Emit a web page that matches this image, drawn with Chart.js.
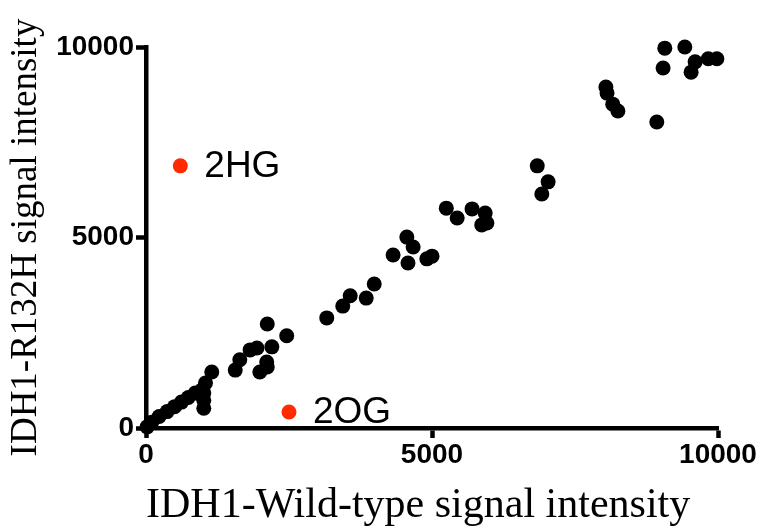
<!DOCTYPE html>
<html lang="en">
<head>
    <meta charset="UTF-8">
    <title>IDH1 signal intensity</title>
    <style>
        * { margin: 0; padding: 0; box-sizing: border-box; }
        body { background: #fff; }
        #wrap { width: 763px; height: 531px; }
    </style>
</head>
<body>
    <div id="wrap"><canvas id="scatter"></canvas></div>

    <script src="https://cdn.jsdelivr.net/npm/chart.js"></script>
    <script>
        // Metabolite intensities: wild-type (x) vs R132H mutant (y)
        const wildType = [
            20, 100, 230, 370, 500, 620, 740, 860, 980, 1010, 1010, 1010, 1040, 1150,
            1560, 1640, 1820, 1940, 1990, 2110, 2120, 2200, 2120, 2460,
            3160, 3440, 3570, 3850, 3990,
            4320, 4560, 4670, 4580, 4910, 5000,
            5250, 5440, 5700, 5930, 5960, 5870,
            6840, 7030, 6920,
            8040, 8060, 8160, 8250, 8930,
            9070, 9040, 9420, 9600, 9530, 9830, 9980
        ];
        const mutant = [
            30, 150, 300, 430, 560, 680, 800, 920, 1000, 920, 730, 520, 1180, 1470,
            1520, 1790, 2050, 2100, 1470, 1730, 2730, 2130, 1600, 2420,
            2890, 3200, 3470, 3410, 3780,
            4540, 5010, 4750, 4330, 4440, 4510,
            5770, 5510, 5750, 5640, 5380, 5330,
            6880, 6460, 6140,
            8950, 8790, 8500, 8320, 8030,
            9970, 9450, 10000, 9610, 9340, 9690, 9690
        ];

        // Highlighted metabolites
        const markerNames = ['2HG', '2OG'];
        const markerWT = [600, 2500];
        const markerMut = [6880, 420];

        const xTicks = [0, 5000, 10000];
        const yTicks = [0, 5000, 10000];

        const toPoints = (xs, ys) => xs.map((x, i) => ({ x: x, y: ys[i] }));

        // labels next to the red points
        const markerLabels = {
            id: 'markerLabels',
            afterDatasetsDraw(chart) {
                const ctx = chart.ctx;
                const xs = chart.scales.x, ys = chart.scales.y;
                ctx.save();
                ctx.fillStyle = '#000';
                ctx.font = '37px "Liberation Sans", Arial, sans-serif';
                ctx.textBaseline = 'middle';
                markerNames.forEach((name, i) => {
                    ctx.fillText(name, xs.getPixelForValue(markerWT[i]) + 24,
                                 ys.getPixelForValue(markerMut[i]) + 1);
                });
                ctx.restore();
            }
        };

        const axisCommon = {
            type: 'linear',
            min: 0,
            max: 10000,
            grid: {
                drawOnChartArea: false,
                drawTicks: true,
                tickLength: 10,
                tickWidth: 4.5,
                tickColor: '#000'
            },
            border: { display: true, color: '#000', width: 4.5 },
            ticks: {
                color: '#000',
                callback: v => String(v),
                font: { family: '"Liberation Sans", Arial, sans-serif', size: 28, weight: 'bold' }
            }
        };

        new Chart(document.getElementById('scatter'), {
            type: 'scatter',
            data: {
                datasets: [{
                    label: 'Metabolites',
                    data: toPoints(wildType, mutant),
                    backgroundColor: '#000',
                    borderColor: '#000',
                    borderWidth: 0,
                    pointRadius: 7.5,
                    clip: false
                }, {
                    label: 'Highlighted',
                    data: toPoints(markerWT, markerMut),
                    backgroundColor: '#ff2a00',
                    borderColor: '#ff2a00',
                    borderWidth: 0,
                    pointRadius: 7.5,
                    clip: false
                }]
            },
            options: {
                responsive: true,
                maintainAspectRatio: false,
                animation: false,
                layout: { padding: { left: 0, top: 47, right: 45, bottom: 0 } },
                plugins: {
                    legend: { display: false },
                    tooltip: { enabled: false }
                },
                scales: {
                    x: {
                        ...axisCommon,
                        afterBuildTicks: s => { s.ticks = xTicks.map(v => ({ value: v })); },
                        afterFit: s => { s.height = 103; },
                        ticks: { ...axisCommon.ticks, padding: 0, maxRotation: 0 },
                        title: {
                            display: true,
                            text: 'IDH1-Wild-type signal intensity',
                            color: '#000',
                            align: 'start',
                            padding: { top: 0, bottom: 0 },
                            font: { family: '"Liberation Serif", "Times New Roman", serif', size: 42 }
                        }
                    },
                    y: {
                        ...axisCommon,
                        afterBuildTicks: s => { s.ticks = yTicks.map(v => ({ value: v })); },
                        afterFit: s => { s.width = 146; },
                        ticks: { ...axisCommon.ticks, padding: 2 },
                        title: {
                            display: true,
                            text: 'IDH1-R132H signal intensity',
                            color: '#000',
                            padding: { top: 4, bottom: 0 },
                            font: { family: '"Liberation Serif", "Times New Roman", serif', size: 37 }
                        }
                    }
                }
            },
            plugins: [markerLabels]
        });
    </script>
</body>
</html>
